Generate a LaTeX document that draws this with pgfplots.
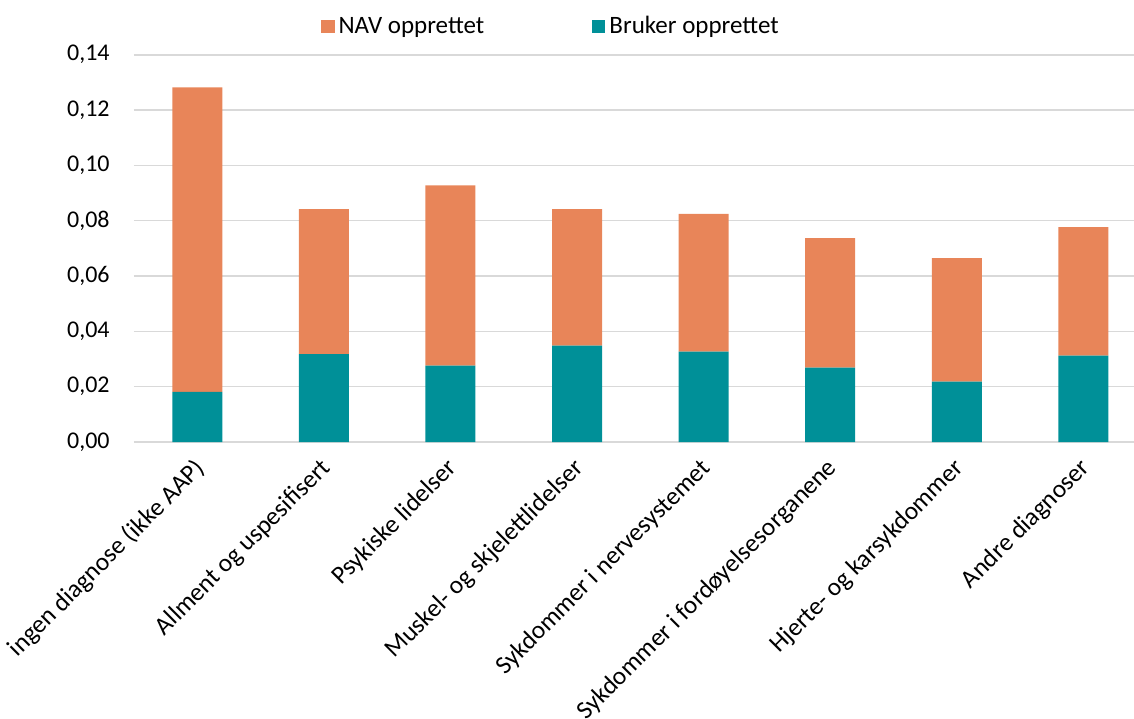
\documentclass[border=0pt]{standalone}
\usepackage{pgfplots}
\pgfplotsset{compat=1.18}
\usepackage{fontspec}
\setmainfont{Carlito}
\definecolor{navc}{RGB}{232,133,89}
\definecolor{brukc}{RGB}{0,144,152}
\definecolor{gridc}{RGB}{217,217,217}
\begin{document}
\fontsize{12}{14}\selectfont
\begin{tikzpicture}
\begin{axis}[
  name=ax,
  scale only axis,
  width=500pt, height=193.65pt,
  ybar stacked,
  bar width=25pt,
  xmin=-0.5, xmax=7.4,
  ymin=0, ymax=0.14,
  ytick={0,0.02,...,0.14},
  xtick={0,...,7},
  xticklabels={ingen diagnose (ikke AAP),Allment og uspesifisert,Psykiske lidelser,Muskel- og skjelettlidelser,Sykdommer i nervesystemet,Sykdommer i fordøyelsesorganene,Hjerte- og karsykdommer,Andre diagnoser},
  x tick label style={rotate=45, anchor=north east, inner sep=0pt, xshift=-6.7pt, yshift=-3.3pt, font=\fontsize{12.7}{15}\selectfont},
  y tick label style={font=\fontsize{12}{14}\selectfont, xshift=-8pt},
  yticklabel style={/pgf/number format/.cd, use comma, fixed, fixed zerofill, precision=2, assume math mode=true},
  major tick length=0pt,
  axis line style={draw=none},
  ymajorgrids,
  grid style={gridc, line width=0.8pt},
  axis on top=false,
  legend style={at={(0.418,1)}, anchor=south, yshift=4.5pt, draw=none, legend columns=2, font=\fontsize{12.5}{14}\selectfont, /tikz/every even column/.append style={column sep=52pt}},
  legend image code/.code={\fill[#1] (0pt,-3.3pt) rectangle (6.6pt,3.3pt);},
  reverse legend,
  legend cell align=left,
]
\addplot[fill=brukc, draw=none] coordinates {(0,0.0181) (1,0.0318) (2,0.0276) (3,0.0348) (4,0.0327) (5,0.0269) (6,0.0218) (7,0.0312)};
\addplot[fill=navc, draw=none] coordinates {(0,0.1101) (1,0.0524) (2,0.0652) (3,0.0494) (4,0.0498) (5,0.0468) (6,0.0447) (7,0.0465)};
\legend{Bruker opprettet, NAV opprettet}
\end{axis}
\pgfresetboundingbox
\path[use as bounding box] ([xshift=-67pt, yshift=-138pt]ax.south west) rectangle ([yshift=27.35pt]ax.north east);
\end{tikzpicture}
\end{document}
